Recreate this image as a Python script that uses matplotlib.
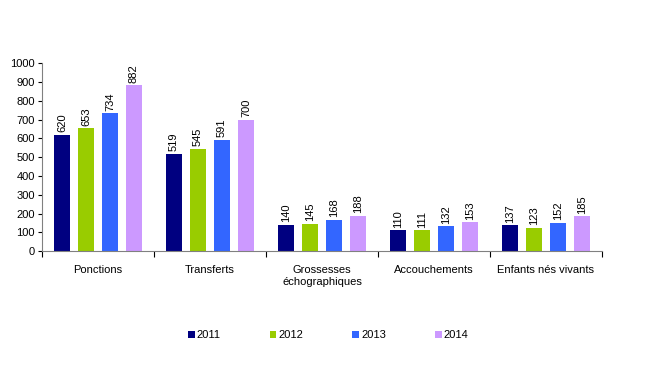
import matplotlib
matplotlib.use("Agg")
import matplotlib.pyplot as plt
import numpy as np

categories = ["Ponctions", "Transferts", "Grossesses\néchographiques", "Accouchements", "Enfants nés vivants"]
years = ["2011", "2012", "2013", "2014"]
v2011 = [620, 519, 140, 110, 137]
v2012 = [653, 545, 145, 111, 123]
v2013 = [734, 591, 168, 132, 152]
v2014 = [882, 700, 188, 153, 185]
colors = ["#000080", "#99CC00", "#3366FF", "#CC99FF"]

plt.rcParams['font.family'] = ['Liberation Sans', 'DejaVu Sans']

fig = plt.figure(figsize=(6.5, 3.65), dpi=100)
ax = fig.add_axes([0.0646, 0.312, 0.8615, 0.515])

series = [v2011, v2012, v2013, v2014]
x = np.arange(len(categories))
w = 0.143
step = 0.214
for i, (vals, c, yr) in enumerate(zip(series, colors, years)):
    pos = x + (i - 1.5) * step
    ax.bar(pos, vals, width=w, color=c, label=yr, zorder=2)
    for xp, v in zip(pos, vals):
        ax.text(xp, v + 14, str(v), rotation=90, ha="center", va="bottom", fontsize=8)

ax.set_xlim(-0.5, len(categories) - 0.5)
ax.set_ylim(0, 1000)
ax.set_yticks(range(0, 1001, 100))
ax.tick_params(axis='y', labelsize=8, length=3, direction='out', pad=2)
ax.set_xticks(np.arange(-0.5, len(categories), 1))
ax.set_xticklabels([])
ax.set_xticks(x, minor=True)
ax.set_xticklabels(categories, minor=True, fontsize=8)
ax.tick_params(axis='x', which='major', length=4, direction='out')
ax.tick_params(axis='x', which='minor', length=0, pad=10)
for s in ["top", "right"]:
    ax.spines[s].set_visible(False)
ax.spines["left"].set_color("#808080")
ax.spines["bottom"].set_color("#808080")

handles, labels = ax.get_legend_handles_labels()
fig.legend(handles, labels, loc="center", bbox_to_anchor=(0.505, 0.082), ncol=4,
           frameon=False, fontsize=8, handlelength=0.6, handleheight=0.6,
           handletextpad=0.2, columnspacing=4.4)

fig.savefig("out.png", dpi=100)
